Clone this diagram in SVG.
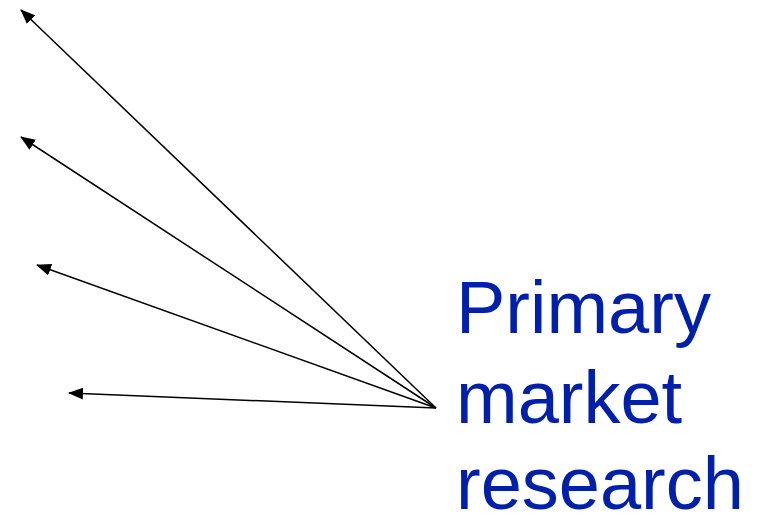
<svg xmlns="http://www.w3.org/2000/svg" width="762" height="515" viewBox="0 0 762 515">
  <style>
    .conn { stroke: #000; stroke-width: 1.5; fill: none; marker-end: url(#arrow); }
    .label { font-family: "Liberation Sans", Arial, sans-serif; font-size: 74px; fill: #0020AA; }
  </style>
  <defs>
    <marker id="arrow" markerUnits="userSpaceOnUse" markerWidth="15" markerHeight="12" refX="14" refY="6" orient="auto" viewBox="0 0 15 12">
      <path d="M0,0 L15,6 L0,12 Z" fill="#000"/>
    </marker>
  </defs>
  <rect width="762" height="515" fill="#fff"/>
  <g id="connectors">
    <line class="conn" x1="436" y1="408" x2="21" y2="10"/>
    <line class="conn" x1="436" y1="408" x2="21" y2="137"/>
    <line class="conn" x1="436" y1="408" x2="37" y2="265"/>
    <line class="conn" x1="436" y1="408" x2="69" y2="393"/>
  </g>
  <g id="primary-market-research">
    <text class="label" x="456" y="333">Primary</text>
    <text class="label" x="456" y="423">market</text>
    <text class="label" x="456" y="509">research</text>
  </g>
</svg>
